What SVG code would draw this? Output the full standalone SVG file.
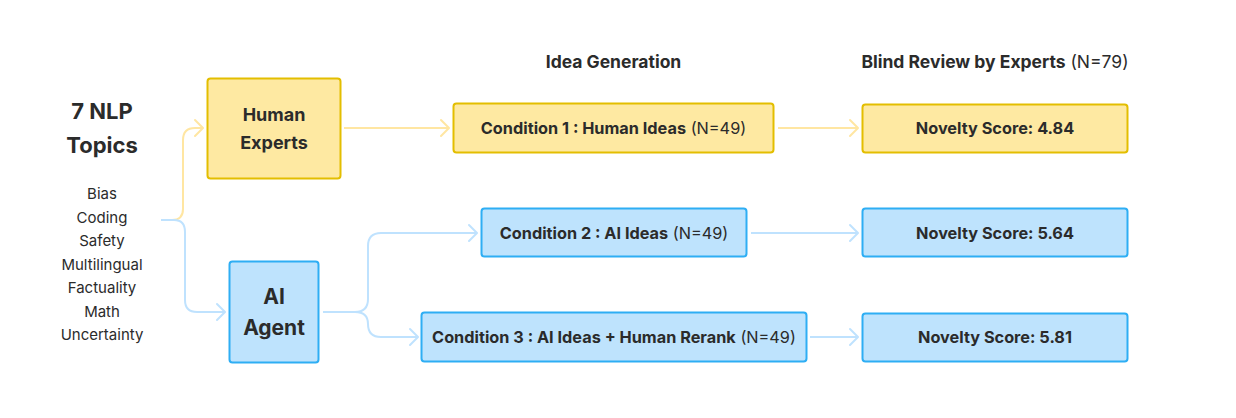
<svg xmlns="http://www.w3.org/2000/svg" width="1236" height="418" viewBox="0 0 1236 418">
<defs>
<style>
.t{font-family:Inter,"Noto Sans","Liberation Sans",sans-serif;fill:#2b2b2b;text-anchor:middle}
.b{font-weight:700}
.r{font-weight:400}
.y{fill:#FEE9A2;stroke:#E3BE00;stroke-width:2}
.bl{fill:#BEE3FD;stroke:#2EAEF4;stroke-width:2}
.cy{fill:none;stroke:#FFE6A2;stroke-width:2}
.cb{fill:none;stroke:#BFE2FE;stroke-width:2}
</style>
<marker id="ay" markerUnits="userSpaceOnUse" viewBox="-10 -10 12 20" refX="0" refY="0" markerWidth="12" markerHeight="20" orient="auto" overflow="visible">
<path d="M-8,-8 L0,0 L-8,8" fill="none" stroke="#FFE6A2" stroke-width="2" stroke-linecap="round" stroke-linejoin="round"/>
</marker>
<marker id="ab" markerUnits="userSpaceOnUse" viewBox="-10 -10 12 20" refX="0" refY="0" markerWidth="12" markerHeight="20" orient="auto" overflow="visible">
<path d="M-8,-8 L0,0 L-8,8" fill="none" stroke="#BFE2FE" stroke-width="2" stroke-linecap="round" stroke-linejoin="round"/>
</marker>
</defs>
<rect width="1236" height="418" fill="#ffffff"/>

<g id="headers">
<text class="t b" x="613.5" y="67.5" font-size="17.5">Idea Generation</text>
<text class="t" x="995" y="67.5" font-size="17.5"><tspan class="b">Blind Review by Experts</tspan><tspan class="r"> (N=79)</tspan></text>
</g>

<g id="connectors">
<path class="cy" d="M161,220 H172 Q183,220 183,209 V140 Q183,128 195,128 H203" marker-end="url(#ay)"/>
<path class="cb" d="M161,220 H174 Q185,220 185,232 V300 Q185,312 197,312 H225" marker-end="url(#ab)"/>
<path class="cy" d="M344,128 H449" marker-end="url(#ay)"/>
<path class="cy" d="M778,128 H858" marker-end="url(#ay)"/>
<path class="cb" d="M323,312 H355 Q368,312 368,299 V246 Q368,233 381,233 H477" marker-end="url(#ab)"/>
<path class="cb" d="M355,312 Q368,312 368,324 Q368,337 381,337 H418" marker-end="url(#ab)"/>
<path class="cb" d="M751,233 H858" marker-end="url(#ab)"/>
<path class="cb" d="M810,337 H858" marker-end="url(#ab)"/>
</g>

<g id="topics">
<text class="t b" x="102" y="119" font-size="22">7 NLP</text>
<text class="t b" x="102" y="153" font-size="22">Topics</text>
<text class="t r" x="102" y="199" font-size="15">Bias</text>
<text class="t r" x="102" y="222.5" font-size="15">Coding</text>
<text class="t r" x="102" y="246" font-size="15">Safety</text>
<text class="t r" x="102" y="269.5" font-size="15">Multilingual</text>
<text class="t r" x="102" y="293" font-size="15">Factuality</text>
<text class="t r" x="102" y="316.5" font-size="15">Math</text>
<text class="t r" x="102" y="340" font-size="15">Uncertainty</text>
</g>

<g id="human-experts">
<rect class="y" x="207.5" y="78.5" width="133" height="100" rx="3"/>
<text class="t b" x="274" y="121" font-size="18">Human</text>
<text class="t b" x="274" y="149" font-size="18">Experts</text>
</g>

<g id="ai-agent">
<rect class="bl" x="229.5" y="261.5" width="89" height="101" rx="3"/>
<text class="t b" x="274" y="304" font-size="21">AI</text>
<text class="t b" x="274" y="335" font-size="21">Agent</text>
</g>

<g id="condition-1">
<rect class="y" x="453.5" y="103.5" width="320" height="49" rx="3"/>
<text class="t" x="613.5" y="134" font-size="16.3"><tspan class="b">Condition 1 : Human Ideas</tspan><tspan class="r"> (N=49)</tspan></text>
</g>

<g id="condition-2">
<rect class="bl" x="481.5" y="208.5" width="265" height="48" rx="3"/>
<text class="t" x="614" y="239" font-size="16.3"><tspan class="b">Condition 2 : AI Ideas</tspan><tspan class="r"> (N=49)</tspan></text>
</g>

<g id="condition-3">
<rect class="bl" x="421.5" y="312.5" width="385" height="49" rx="3"/>
<text class="t" x="614" y="343" font-size="16.3"><tspan class="b">Condition 3 : AI Ideas + Human Rerank</tspan><tspan class="r"> (N=49)</tspan></text>
</g>

<g id="novelty-1">
<rect class="y" x="862.5" y="104.5" width="265" height="48" rx="3"/>
<text class="t b" x="995" y="134" font-size="16.3">Novelty Score: 4.84</text>
</g>

<g id="novelty-2">
<rect class="bl" x="862.5" y="208.5" width="265" height="48" rx="3"/>
<text class="t b" x="995" y="239" font-size="16.3">Novelty Score: 5.64</text>
</g>

<g id="novelty-3">
<rect class="bl" x="862.5" y="313.5" width="265" height="48" rx="3"/>
<text class="t b" x="995" y="343" font-size="16.3">Novelty Score: 5.81</text>
</g>
</svg>
